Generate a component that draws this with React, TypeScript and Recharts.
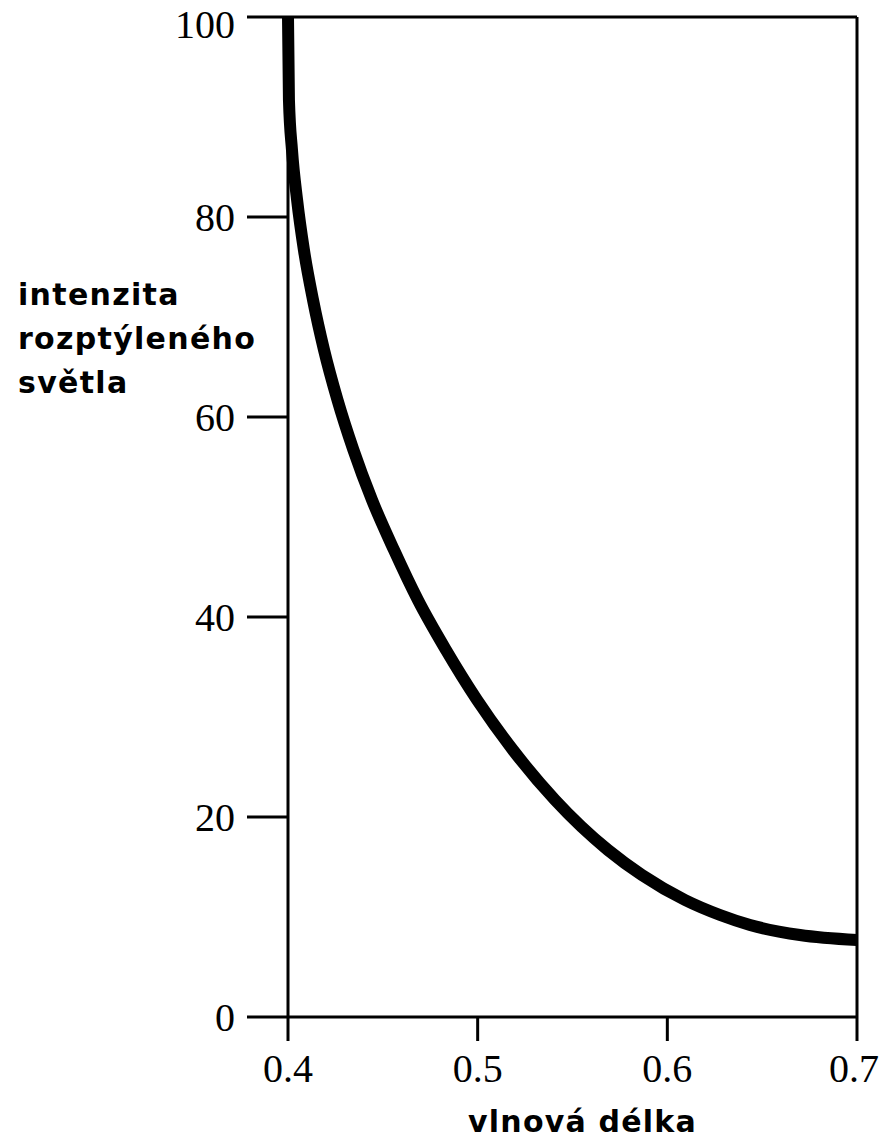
import { LineChart, Line, XAxis, YAxis, ReferenceLine } from "recharts";

// wavelength (µm) and scattered light intensity
const wavelength = [
  0.4, 0.4005, 0.4021, 0.4048, 0.4084, 0.4132, 0.419, 0.4261, 0.4345, 0.4443,
  0.4559, 0.4685, 0.4833, 0.4997, 0.5186, 0.5408, 0.5687, 0.5866, 0.6093,
  0.6278, 0.6436, 0.6699, 0.7,
];
const intensity = [
  100, 91.7, 86.7, 81.7, 76.7, 71.7, 66.7, 61.7, 56.7, 51.7, 46.7, 41.7, 36.7,
  31.7, 26.7, 21.7, 16.7, 14.2, 11.7, 10.2, 9.2, 8.2, 7.7,
];

const xTicks = [0.4, 0.5, 0.6, 0.7];
const yTicks = [0, 20, 40, 60, 80, 100];
const yLabelLines = ["intenzita", "rozptýleného", "světla"];
const xLabel = "vlnová délka";

const data = wavelength.map((w, i) => ({ w, v: intensity[i] }));

const serif = "'Liberation Serif', 'Times New Roman', serif";
const sans = "'DejaVu Sans', Verdana, sans-serif";

function YTitle({ viewBox }: any) {
  const x = viewBox.x + 18;
  const y = viewBox.y + 288;
  return (
    <text
      x={x}
      y={y}
      fontFamily={sans}
      fontWeight="bold"
      fontSize={30}
      letterSpacing={1.3}
      fill="#000"
    >
      {yLabelLines.map((line, i) => (
        <tspan key={line} x={x} dy={i === 0 ? 0 : 44}>
          {line}
        </tspan>
      ))}
    </text>
  );
}

function XTitle({ viewBox }: any) {
  return (
    <text
      x={viewBox.x + viewBox.width / 2 + 10}
      y={viewBox.y + 115}
      textAnchor="middle"
      fontFamily={sans}
      fontWeight="bold"
      fontSize={30}
      letterSpacing={1.2}
      fill="#000"
    >
      {xLabel}
    </text>
  );
}

export default function App() {
  return (
    <div style={{ position: "absolute", left: 0, top: 0, background: "#fff" }}>
      <LineChart
        width={879}
        height={1138}
        data={data}
        margin={{ top: 17, right: 22, bottom: 0, left: 0 }}
      >
        <XAxis
          dataKey="w"
          type="number"
          domain={[0.4, 0.7]}
          ticks={xTicks}
          tickFormatter={(v: number) => v.toFixed(1)}
          height={121}
          stroke="#000"
          strokeWidth={3}
          tickSize={24}
          tickMargin={13}
          tick={{ fill: "#000", fontSize: 40, fontFamily: serif }}
          label={<XTitle />}
        />
        <YAxis
          type="number"
          domain={[0, 100]}
          ticks={yTicks}
          width={288}
          stroke="#000"
          strokeWidth={3}
          tickSize={41}
          tickMargin={12}
          tick={{ fill: "#000", fontSize: 40, fontFamily: serif }}
          label={<YTitle />}
        />
        <ReferenceLine y={100} stroke="#000" strokeWidth={3} />
        <ReferenceLine x={0.7} stroke="#000" strokeWidth={3} />
        <Line
          dataKey="v"
          type="monotone"
          stroke="#000"
          strokeWidth={12}
          dot={false}
          isAnimationActive={false}
        />
      </LineChart>
    </div>
  );
}
